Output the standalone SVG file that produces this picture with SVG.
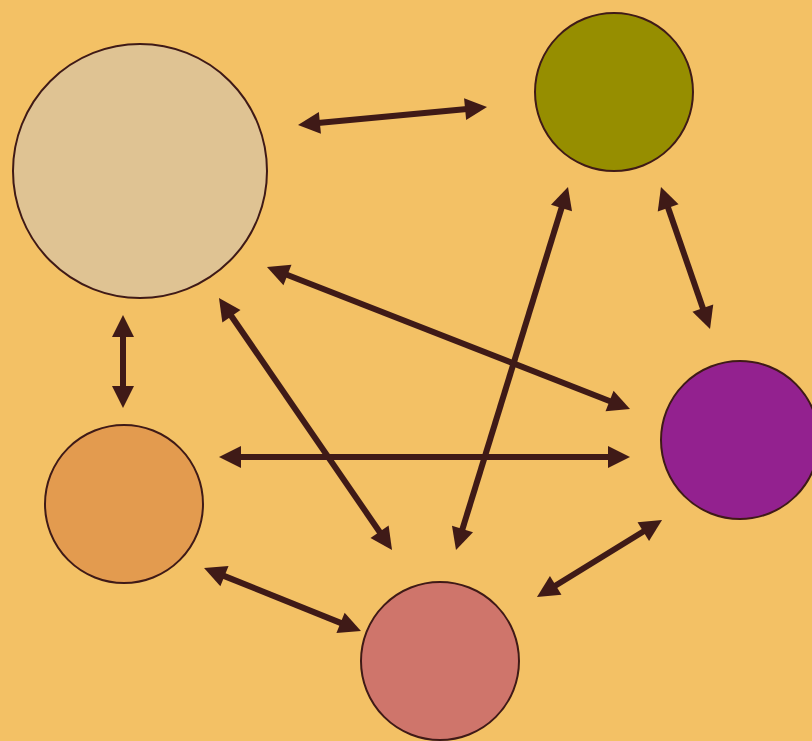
<svg xmlns="http://www.w3.org/2000/svg" width="812" height="741" viewBox="0 0 812 741">
<style>
.node{stroke:#3f1a17;stroke-width:2}
.edge{stroke:#3f1a17;stroke-width:6;fill:none;marker-start:url(#ah);marker-end:url(#ah)}
</style>
<defs>
<marker id="ah" markerUnits="userSpaceOnUse" markerWidth="24" markerHeight="24" refX="2" refY="0" orient="auto-start-reverse" overflow="visible">
<path d="M0,-11 L22,0 L0,11 z" fill="#3f1a17"/>
</marker>
</defs>
<rect width="812" height="741" fill="#f3c165"/>
<g id="connectors">
<line class="edge" x1="317.9" y1="123.1" x2="467.1" y2="108.9"/>
<line class="edge" x1="123" y1="335" x2="123" y2="388"/>
<line class="edge" x1="554" y1="586.5" x2="645" y2="530.5"/>
<line class="edge" x1="667.5" y1="205.9" x2="703.5" y2="310.1"/>
<line class="edge" x1="285.6" y1="274.3" x2="611.4" y2="401.7"/>
<line class="edge" x1="230.3" y1="314.5" x2="380.7" y2="533.5"/>
<line class="edge" x1="562.1" y1="206.1" x2="461.9" y2="530.9"/>
<line class="edge" x1="239" y1="457" x2="610" y2="457"/>
<line class="edge" x1="222.6" y1="575.4" x2="342.4" y2="623.6"/>
</g>
<g id="node-beige"><circle class="node" cx="140" cy="171" r="127" fill="#dfc393"/></g>
<g id="node-olive"><circle class="node" cx="614" cy="92" r="79" fill="#968e00"/></g>
<g id="node-purple"><circle class="node" cx="740" cy="440" r="79" fill="#93218f"/></g>
<g id="node-orange"><circle class="node" cx="124" cy="504" r="79" fill="#e39b4f"/></g>
<g id="node-pink"><circle class="node" cx="440" cy="661" r="79" fill="#cf756b"/></g>
</svg>
